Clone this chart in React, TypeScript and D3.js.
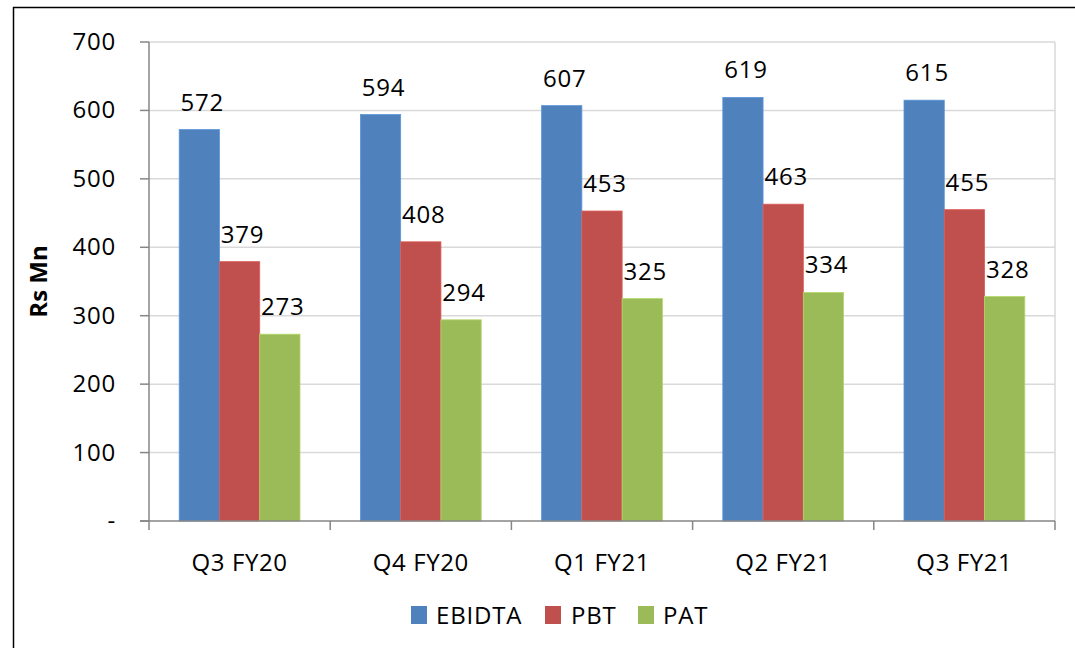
import React from "react";
import * as d3 from "d3";

const categories = ["Q3 FY20", "Q4 FY20", "Q1 FY21", "Q2 FY21", "Q3 FY21"];
const seriesNames = ["EBIDTA", "PBT", "PAT"];
const ebidta = [572, 594, 607, 619, 615];
const pbt = [379, 408, 453, 463, 455];
const pat = [273, 294, 325, 334, 328];
const yTicks = [0, 100, 200, 300, 400, 500, 600, 700];
const colors = ["#4F81BD", "#C0504D", "#9BBB59"];

const W = 1075;
const H = 648;
const left = 149;
const right = 1055;
const top = 42;
const bottom = 521;
const FONT = "'Open Sans', sans-serif";

export default function App() {
  const series = [ebidta, pbt, pat];
  const x = d3.scaleBand<string>().domain(categories).range([left, right]).paddingInner(0).paddingOuter(0);
  const inner = d3
    .scaleBand<string>()
    .domain(seriesNames)
    .range([0, x.bandwidth()])
    .paddingInner(0)
    .paddingOuter(0.75);
  const y = d3.scaleLinear().domain([0, 700]).range([bottom, top]);
  const fmt = (v: number) => (v === 0 ? "-" : d3.format("d")(v));

  const legendItems = [
    { name: "EBIDTA", sx: 411, tx: 436 },
    { name: "PBT", sx: 545, tx: 571 },
    { name: "PAT", sx: 638, tx: 663 },
  ];

  return (
    <svg
      width={W}
      height={H}
      style={{ position: "absolute", left: 0, top: 0, background: "#fff" }}
      fontFamily={FONT}
    >
      <rect x={0} y={0} width={W} height={H} fill="#fff" />
      <line x1={13.5} y1={7} x2={13.5} y2={H} stroke="#000" strokeWidth={1.5} />
      <line x1={13} y1={7.5} x2={W} y2={7.5} stroke="#000" strokeWidth={1.5} />

      {yTicks.filter((t) => t > 0).map((t) => (
        <line key={t} x1={left} x2={right} y1={y(t)} y2={y(t)} stroke="#D9D9D9" strokeWidth={1.5} />
      ))}
      <line x1={right} x2={right} y1={top} y2={bottom} stroke="#D9D9D9" strokeWidth={1.5} />

      {categories.map((c, i) => (
        <g key={c}>
          {series.map((s, j) => {
            const bx = (x(c) as number) + (inner(seriesNames[j]) as number);
            const bw = inner.bandwidth();
            return (
              <g key={j}>
                <rect
                  x={bx}
                  y={y(s[i])}
                  width={bw}
                  height={bottom - y(s[i])}
                  fill={colors[j]}
                  stroke={d3.color(colors[j])!.brighter(0.4).toString()}
                  strokeWidth={0.8}
                />
                <text
                  x={bx + bw / 2 + 3}
                  y={y(s[i]) - 19}
                  textAnchor="middle"
                  fontSize={24}
                  letterSpacing={0.8}
                  fill="#000"
                >
                  {s[i]}
                </text>
              </g>
            );
          })}
        </g>
      ))}

      <line x1={left} x2={left} y1={top} y2={bottom} stroke="#868686" strokeWidth={1.5} />
      <line x1={left - 9} x2={right} y1={bottom} y2={bottom} stroke="#868686" strokeWidth={1.5} />
      {yTicks.map((t) => (
        <g key={t}>
          <line x1={left - 9} x2={left} y1={y(t)} y2={y(t)} stroke="#868686" strokeWidth={1.5} />
          <text x={116} y={y(t) + 8} textAnchor="end" fontSize={24} letterSpacing={0.8} fill="#000">
            {fmt(t)}
          </text>
        </g>
      ))}
      {[...categories.map((c) => x(c) as number), right].map((px, i) => (
        <line key={i} x1={px} x2={px} y1={bottom} y2={bottom + 9} stroke="#868686" strokeWidth={1.5} />
      ))}
      {categories.map((c) => (
        <text
          key={c}
          x={(x(c) as number) + x.bandwidth() / 2}
          y={571}
          textAnchor="middle"
          fontSize={24}
          letterSpacing={0.6}
          fill="#000"
        >
          {c}
        </text>
      ))}

      <text
        transform={`translate(47,${(top + bottom) / 2}) rotate(-90)`}
        textAnchor="middle"
        fontSize={24}
        fontWeight="bold"
        fill="#000"
      >
        Rs Mn
      </text>

      {legendItems.map((l, i) => (
        <g key={l.name}>
          <rect x={l.sx} y={606} width={16} height={18} fill={colors[i]} />
          <text x={l.tx} y={624} fontSize={24} letterSpacing={0.8} fill="#000">
            {l.name}
          </text>
        </g>
      ))}
    </svg>
  );
}
